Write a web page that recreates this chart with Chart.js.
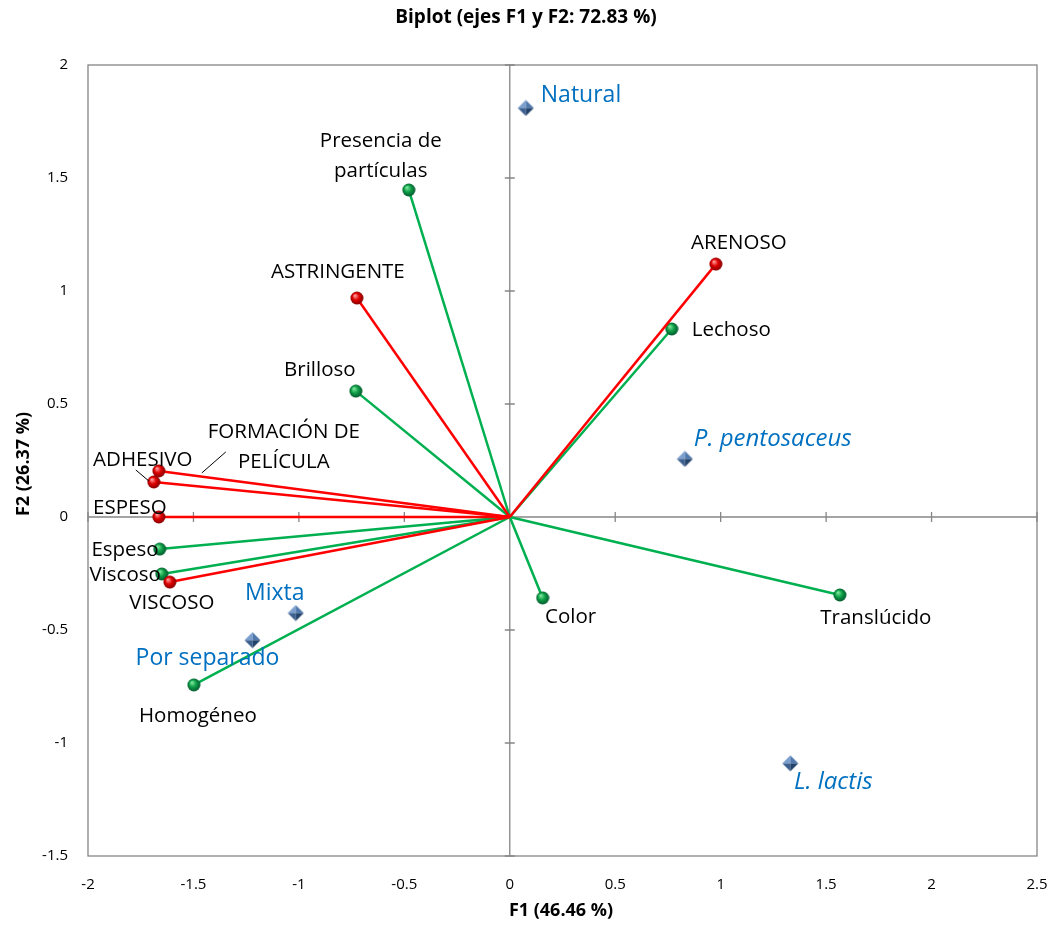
<!DOCTYPE html>
<html>
<head>
<meta charset="utf-8">
<script src="https://cdn.jsdelivr.net/npm/chart.js@4/dist/chart.umd.min.js"></script>
<style>
  html, body { margin: 0; padding: 0; background: #fff; }
  #chart_area { width: 1051px; height: 926px; }
</style>
</head>
<body>
<div id="chart_area"><canvas id="biplot"></canvas></div>
<script>
// Observaciones (rombos azules)
const obsNames = ["Natural", "P. pentosaceus", "L. lactis", "Mixta", "Por separado"];
const obsF1 = [0.076, 0.83, 1.33, -1.015, -1.22];
const obsF2 = [1.81, 0.257, -1.09, -0.425, -0.545];

// Variables sensoriales (verde)
const greenNames = ["Presencia de partículas", "Lechoso", "Brilloso", "Espeso", "Viscoso", "Homogéneo", "Color", "Translúcido"];
const greenF1 = [-0.479, 0.768, -0.73, -1.66, -1.65, -1.498, 0.156, 1.565];
const greenF2 = [1.447, 0.832, 0.557, -0.142, -0.252, -0.743, -0.358, -0.345];

// Variables de textura (rojo)
const redNames = ["ARENOSO", "ASTRINGENTE", "FORMACIÓN DE PELÍCULA", "ADHESIVO", "ESPESO", "VISCOSO"];
const redF1 = [0.977, -0.725, -1.664, -1.688, -1.664, -1.612];
const redF2 = [1.119, 0.969, 0.204, 0.155, 0.0, -0.288];

// Ticks
const xTicks = [-2, -1.5, -1, -0.5, 0, 0.5, 1, 1.5, 2, 2.5];
const yTicks = [-1.5, -1, -0.5, 0, 0.5, 1, 1.5, 2];

const chartTitle = "Biplot (ejes F1 y F2: 72.83 %)";
const xTitle = "F1 (46.46 %)";
const yTitle = "F2 (26.37 %)";

const FONT = "'Open Sans', 'DejaVu Sans', sans-serif";

// Label placement relative to each point (px)
const labelLayout = {
    "Natural": { dx: 15, dy: -12, align: "left" },
    "P. pentosaceus": { dx: 9, dy: -20, align: "left", italic: true },
    "L. lactis": { dx: 43, dy: 19, align: "center", italic: true },
    "Mixta": { dx: -21, dy: -20, align: "center" },
    "Por separado": { dx: -45, dy: 18, align: "center" },
    "Presencia de partículas": { dx: -28, dy: -49, align: "center", lines: ["Presencia de", "partículas"] },
    "Lechoso": { dx: 20, dy: 1, align: "left" },
    "Brilloso": { dx: -36, dy: -21, align: "center" },
    "Espeso": { dx: -1, dy: 1, align: "right" },
    "Viscoso": { dx: -1, dy: 1, align: "right" },
    "Homogéneo": { dx: 4, dy: 31, align: "center" },
    "Color": { dx: 28, dy: 19, align: "center" },
    "Translúcido": { dx: 36, dy: 23, align: "center" },
    "ARENOSO": { dx: 23, dy: -21, align: "center" },
    "ASTRINGENTE": { dx: -19, dy: -26, align: "center" },
    "FORMACIÓN DE PELÍCULA": { dx: 125, dy: -39, align: "center", lines: ["FORMACIÓN DE", "PELÍCULA"],
        leader: [43, 2, 67, -19] },
    "ADHESIVO": { dx: -11, dy: -22, align: "center", leader: [-5, -1, -18, -12] },
    "ESPESO": { dx: -29, dy: -9, align: "center" },
    "VISCOSO": { dx: 2, dy: 21, align: "center" }
};

/**
 * Makes a small shaded sphere to use as point style.
 */
function make_sphere(light, mid, dark) {
    const c = document.createElement("canvas");
    c.width = 14; c.height = 14;
    const g = c.getContext("2d");
    const grad = g.createRadialGradient(5, 4.5, 0.5, 7, 7, 7);
    grad.addColorStop(0, light);
    grad.addColorStop(0.45, mid);
    grad.addColorStop(1, dark);
    g.fillStyle = grad;
    g.beginPath();
    g.arc(7, 7, 6.5, 0, Math.PI * 2);
    g.fill();
    return c;
}

/**
 * Makes the faceted blue diamond marker.
 */
function make_diamond() {
    const c = document.createElement("canvas");
    c.width = 17; c.height = 17;
    const g = c.getContext("2d");
    const m = 8.5, r = 8;
    const facets = [
        [[m, m - r], [m - r, m], "#7A9FCF"],
        [[m, m - r], [m + r, m], "#4F79AD"],
        [[m - r, m], [m, m + r], "#3B5F8E"],
        [[m + r, m], [m, m + r], "#23426B"]
    ];
    facets.forEach(function (f) {
        g.fillStyle = f[2];
        g.beginPath();
        g.moveTo(m, m);
        g.lineTo(f[0][0], f[0][1]);
        g.lineTo(f[1][0], f[1][1]);
        g.closePath();
        g.fill();
    });
    return c;
}

const greenBall = make_sphere("#7BE59B", "#10A048", "#00502A");
const redBall = make_sphere("#FF9A9A", "#E00000", "#7A0000");
const diamond = make_diamond();

// Build the datasets
const datasets = [];

datasets.push({
    label: "obs",
    type: "scatter",
    data: obsF1.map(function (v, i) { return { x: v, y: obsF2[i], name: obsNames[i] }; }),
    pointStyle: diamond,
    pointRadius: 7,
    showLine: false
});

function vector_datasets(names, f1, f2, color, ball) {
    names.forEach(function (name, i) {
        datasets.push({
            label: name,
            type: "line",
            data: [{ x: 0, y: 0 }, { x: f1[i], y: f2[i], name: name }],
            borderColor: color,
            borderWidth: 2.5,
            pointStyle: ball,
            pointRadius: [0, 6.5],
            fill: false,
            tension: 0
        });
    });
}

vector_datasets(redNames, redF1, redF2, "#FF0000", redBall);
vector_datasets(greenNames, greenF1, greenF2, "#00B050", greenBall);

// Zero axes with crossing tick marks, outer frame and titles
const axesPlugin = {
    id: "axesPlugin",
    beforeDatasetsDraw: function (chart) {
        const ctx = chart.ctx;
        const a = chart.chartArea;
        const sx = chart.scales.x, sy = chart.scales.y;
        const x0 = sx.getPixelForValue(0), y0 = sy.getPixelForValue(0);
        ctx.save();
        ctx.strokeStyle = "#868686";
        ctx.lineWidth = 1.3;
        ctx.strokeRect(a.left, a.top, a.right - a.left, a.bottom - a.top);
        ctx.beginPath();
        ctx.moveTo(a.left, y0); ctx.lineTo(a.right, y0);
        ctx.moveTo(x0, a.top); ctx.lineTo(x0, a.bottom);
        xTicks.forEach(function (v) {
            const px = sx.getPixelForValue(v);
            ctx.moveTo(px, y0 - 5); ctx.lineTo(px, y0 + 5);
        });
        yTicks.forEach(function (v) {
            const py = sy.getPixelForValue(v);
            ctx.moveTo(x0 - 5, py); ctx.lineTo(x0 + 5, py);
        });
        ctx.stroke();
        ctx.restore();
    },
    afterDraw: function (chart) {
        const ctx = chart.ctx;
        ctx.save();
        ctx.fillStyle = "#000";
        ctx.textAlign = "center";
        ctx.textBaseline = "middle";
        ctx.font = "bold 19px " + FONT;
        ctx.fillText(chartTitle, 526, 18);
        ctx.font = "bold 18px " + FONT;
        ctx.fillText(xTitle, 561, 911);
        ctx.translate(24, 464);
        ctx.rotate(-Math.PI / 2);
        ctx.fillText(yTitle, 0, 0);
        ctx.restore();
    }
};

// Text labels next to each point
const labelPlugin = {
    id: "labelPlugin",
    afterDatasetsDraw: function (chart) {
        const ctx = chart.ctx;
        ctx.save();
        ctx.textBaseline = "middle";
        chart.data.datasets.forEach(function (ds, di) {
            const meta = chart.getDatasetMeta(di);
            ds.data.forEach(function (pt, pi) {
                if (!pt.name) return;
                const lay = labelLayout[pt.name];
                const el = meta.data[pi];
                const isObs = ds.label === "obs";
                const lines = lay.lines || [pt.name];
                ctx.fillStyle = isObs ? "#0070C0" : "#000";
                let size = isObs ? (lay.italic ? 24 : 23) : 20.5;
                ctx.font = (lay.italic ? "italic " : "") + size + "px " + FONT;
                ctx.textAlign = lay.align;
                lines.forEach(function (t, li) {
                    ctx.fillText(t, el.x + lay.dx, el.y + lay.dy + li * 30);
                });
                if (lay.leader) {
                    const l = lay.leader;
                    ctx.strokeStyle = "#000";
                    ctx.lineWidth = 1;
                    ctx.beginPath();
                    ctx.moveTo(el.x + l[0], el.y + l[1]);
                    ctx.lineTo(el.x + l[2], el.y + l[3]);
                    ctx.stroke();
                }
            });
        });
        ctx.restore();
    }
};

new Chart("biplot", {
    type: "scatter",
    data: { datasets: datasets },
    options: {
        responsive: true,
        maintainAspectRatio: false,
        animation: false,
        layout: { padding: { top: 65, right: 14, bottom: 0, left: 0 } },
        plugins: {
            legend: { display: false },
            title: { display: false },
            tooltip: { enabled: false }
        },
        scales: {
            x: {
                type: "linear",
                min: -2, max: 2.5,
                grid: { display: false },
                border: { display: false },
                afterBuildTicks: function (s) { s.ticks = xTicks.map(function (v) { return { value: v }; }); },
                afterFit: function (s) { s.height = 70; s.paddingLeft = 0; s.paddingRight = 0; },
                ticks: {
                    padding: 12,
                    color: "#000",
                    font: { family: FONT, size: 15 },
                    maxRotation: 0,
                    callback: function (v) { return String(v); }
                }
            },
            y: {
                type: "linear",
                min: -1.5, max: 2,
                grid: { display: false },
                border: { display: false },
                afterBuildTicks: function (s) { s.ticks = yTicks.map(function (v) { return { value: v }; }); },
                afterFit: function (s) { s.width = 88; s.paddingTop = 0; s.paddingBottom = 0; },
                ticks: {
                    padding: 12,
                    color: "#000",
                    font: { family: FONT, size: 15 },
                    callback: function (v) { return String(v); }
                }
            }
        }
    },
    plugins: [axesPlugin, labelPlugin]
});
</script>
</body>
</html>
